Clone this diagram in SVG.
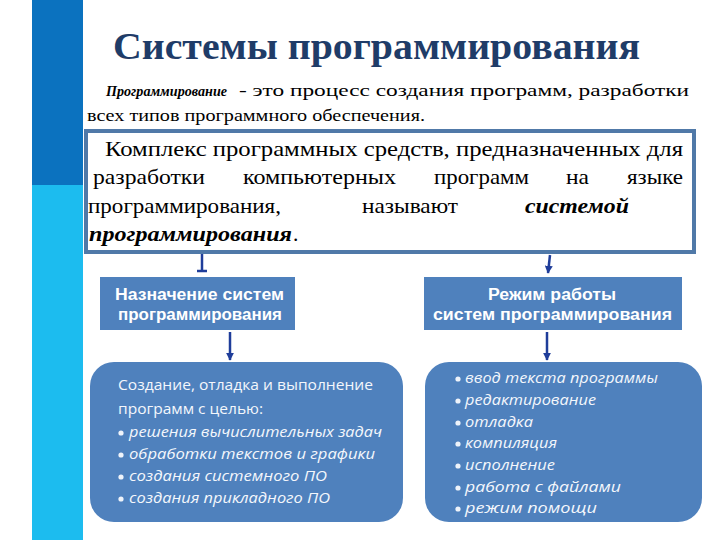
<svg xmlns="http://www.w3.org/2000/svg" width="720" height="540" viewBox="0 0 720 540">
<defs>
<style>
.serif{font-family:"Liberation Serif","Times New Roman",serif;fill:#000}
.title{font-family:"Liberation Serif","Times New Roman",serif;font-weight:bold;font-size:38px;fill:#1f3c68}
.bi{font-weight:bold;font-style:italic}
.box{fill:#4f81bd}
.hdr{font-family:"Liberation Sans",Arial,sans-serif;font-weight:bold;font-size:16px;fill:#fff}
.lt{font-family:"Open Sans","DejaVu Sans",sans-serif;font-size:14px;fill:#f4f7fc}
.it{font-family:"Open Sans","DejaVu Sans",sans-serif;font-style:italic;font-size:14px;fill:#f4f7fc}
.dot{fill:#eef3fa}
.conn{stroke:#1f3d9a;stroke-width:2.5;fill:none}
</style>
<marker id="ah" viewBox="0 0 10 10" refX="9" refY="5" markerWidth="3.2" markerHeight="3.2" orient="auto" markerUnits="strokeWidth">
<path d="M0,0 L10,5 L0,10 z" fill="#1f3d9a"/>
</marker>
</defs>
<rect width="720" height="540" fill="#fff"/>
<g id="sidebar">
<rect x="32" y="0" width="51" height="185" fill="#0b72bf"/>
<rect x="32" y="185" width="51" height="355" fill="#1cbcef"/>
</g>
<g id="title">
<text class="title" x="113" y="59" textLength="527" lengthAdjust="spacingAndGlyphs">Системы программирования</text>
</g>
<g id="definition">
<text class="serif bi" x="106" y="96" font-size="15.5" textLength="121" lengthAdjust="spacingAndGlyphs">Программирование</text>
<text class="serif" x="239" y="96" font-size="17" textLength="450" lengthAdjust="spacingAndGlyphs">-  это процесс создания программ, разработки</text>
<text class="serif" x="87" y="121" font-size="16" textLength="338" lengthAdjust="spacingAndGlyphs">всех типов программного обеспечения.</text>
</g>
<g id="main-box">
<rect x="86" y="131" width="608" height="121" fill="#fff" stroke="#5079a8" stroke-width="4"/>
<g class="serif" font-size="21.5">
<text x="105" y="156" textLength="578" lengthAdjust="spacingAndGlyphs">Комплекс программных средств, предназначенных для</text>
<text x="93" y="184" textLength="112" lengthAdjust="spacingAndGlyphs">разработки</text>
<text x="243" y="184" textLength="153" lengthAdjust="spacingAndGlyphs">компьютерных</text>
<text x="434" y="184" textLength="95" lengthAdjust="spacingAndGlyphs">программ</text>
<text x="566" y="184" textLength="23" lengthAdjust="spacingAndGlyphs">на</text>
<text x="627" y="184" textLength="56" lengthAdjust="spacingAndGlyphs">языке</text>
<text x="88" y="213" textLength="193" lengthAdjust="spacingAndGlyphs">программирования,</text>
<text x="362" y="213" textLength="96" lengthAdjust="spacingAndGlyphs">называют</text>
<text class="bi" x="525" y="213" textLength="104" lengthAdjust="spacingAndGlyphs">системой</text>
<text x="89" y="241"><tspan class="bi" textLength="203" lengthAdjust="spacingAndGlyphs">программирования</tspan><tspan x="293">.</tspan></text>
</g>
</g>
<g id="connectors">
<line class="conn" x1="202" y1="254" x2="202" y2="271"/>
<line class="conn" x1="197" y1="271" x2="207" y2="271"/>
<line class="conn" x1="550" y1="255" x2="548" y2="273" marker-end="url(#ah)"/>
<line class="conn" x1="230" y1="332" x2="230" y2="360" marker-end="url(#ah)"/>
<line class="conn" x1="547" y1="332" x2="547" y2="360" marker-end="url(#ah)"/>
</g>
<g id="purpose-header">
<rect class="box" x="100" y="277" width="195" height="53"/>
<text class="hdr" x="115" y="300" textLength="169" lengthAdjust="spacingAndGlyphs">Назначение систем</text>
<text class="hdr" x="118" y="320" textLength="164" lengthAdjust="spacingAndGlyphs">программирования</text>
</g>
<g id="mode-header">
<rect class="box" x="424" y="277" width="258" height="53"/>
<text class="hdr" x="488" y="300" textLength="128" lengthAdjust="spacingAndGlyphs">Режим работы</text>
<text class="hdr" x="433" y="320" textLength="239" lengthAdjust="spacingAndGlyphs">систем программирования</text>
</g>
<g id="purpose-list">
<rect class="box" x="90" y="362" width="313" height="160" rx="24"/>
<text class="lt" x="118" y="390" textLength="255" lengthAdjust="spacingAndGlyphs">Создание, отладка и выполнение</text>
<text class="lt" x="118" y="414" textLength="145" lengthAdjust="spacingAndGlyphs">программ с целью:</text>
<circle class="dot" cx="121" cy="433" r="2.6"/>
<text class="it" x="129" y="437" textLength="253" lengthAdjust="spacingAndGlyphs">решения вычислительных задач</text>
<circle class="dot" cx="121" cy="455" r="2.6"/>
<text class="it" x="129" y="459" textLength="246" lengthAdjust="spacingAndGlyphs">обработки текстов и графики</text>
<circle class="dot" cx="121" cy="477" r="2.6"/>
<text class="it" x="129" y="481" textLength="198" lengthAdjust="spacingAndGlyphs">создания системного ПО</text>
<circle class="dot" cx="121" cy="499" r="2.6"/>
<text class="it" x="129" y="503" textLength="201" lengthAdjust="spacingAndGlyphs">создания прикладного ПО</text>
</g>
<g id="mode-list">
<rect class="box" x="425" y="362" width="277" height="160" rx="24"/>
<circle class="dot" cx="458" cy="379" r="2.6"/>
<text class="it" x="465" y="383" textLength="193" lengthAdjust="spacingAndGlyphs">ввод текста программы</text>
<circle class="dot" cx="458" cy="401" r="2.6"/>
<text class="it" x="465" y="405" textLength="131" lengthAdjust="spacingAndGlyphs">редактирование</text>
<circle class="dot" cx="458" cy="423" r="2.6"/>
<text class="it" x="465" y="427" textLength="68" lengthAdjust="spacingAndGlyphs">отладка</text>
<circle class="dot" cx="458" cy="444" r="2.6"/>
<text class="it" x="465" y="448" textLength="92" lengthAdjust="spacingAndGlyphs">компиляция</text>
<circle class="dot" cx="458" cy="466" r="2.6"/>
<text class="it" x="465" y="470" textLength="90" lengthAdjust="spacingAndGlyphs">исполнение</text>
<circle class="dot" cx="458" cy="488" r="2.6"/>
<text class="it" x="465" y="492" textLength="156" lengthAdjust="spacingAndGlyphs">работа  с  файлами</text>
<circle class="dot" cx="458" cy="509" r="2.6"/>
<text class="it" x="465" y="513" textLength="132" lengthAdjust="spacingAndGlyphs">режим  помощи</text>
</g>
</svg>
